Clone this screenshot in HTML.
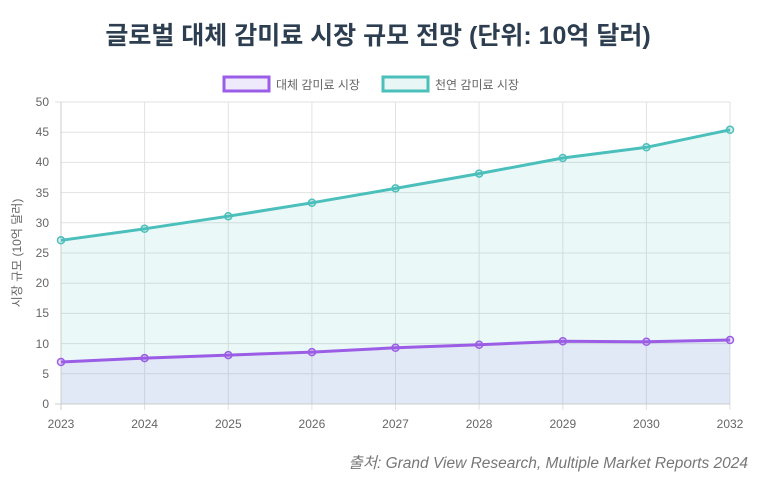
<!DOCTYPE html>
<html><head><meta charset="utf-8"><style>
body{margin:0;background:#fff;width:773px;height:493px;overflow:hidden;font-family:"Liberation Sans","Noto Sans CJK KR",sans-serif;}
</style></head><body>
<svg width="773" height="493" xmlns="http://www.w3.org/2000/svg" font-family="Liberation Sans, Noto Sans CJK KR, sans-serif">
<text x="378" y="44" text-anchor="middle" font-size="25" font-weight="bold" fill="#2c3e50">글로벌 대체 감미료 시장 규모 전망 (단위: 10억 달러)</text>
<rect x="224" y="77" width="45" height="14" fill="#efe9fc" stroke="#9b5de5" stroke-width="3"/>
<text x="276" y="89" font-size="12" fill="#666">대체 감미료 시장</text>
<rect x="383" y="77" width="45" height="14" fill="#e8f7f6" stroke="#4bbfbb" stroke-width="3"/>
<text x="435" y="89" font-size="12" fill="#666">천연 감미료 시장</text>
<g stroke="#e2e2e2" stroke-width="1">
<line x1="61" y1="102" x2="730" y2="102"/><line x1="61" y1="132.2" x2="730" y2="132.2"/><line x1="61" y1="162.4" x2="730" y2="162.4"/><line x1="61" y1="192.6" x2="730" y2="192.6"/><line x1="61" y1="222.8" x2="730" y2="222.8"/><line x1="61" y1="253" x2="730" y2="253"/><line x1="61" y1="283.2" x2="730" y2="283.2"/><line x1="61" y1="313.4" x2="730" y2="313.4"/><line x1="61" y1="343.6" x2="730" y2="343.6"/><line x1="61" y1="373.8" x2="730" y2="373.8"/>
<line x1="144.6" y1="102" x2="144.6" y2="410"/><line x1="228.3" y1="102" x2="228.3" y2="410"/><line x1="311.9" y1="102" x2="311.9" y2="410"/><line x1="395.5" y1="102" x2="395.5" y2="410"/><line x1="479.1" y1="102" x2="479.1" y2="410"/><line x1="562.8" y1="102" x2="562.8" y2="410"/><line x1="646.4" y1="102" x2="646.4" y2="410"/><line x1="730" y1="102" x2="730" y2="410"/>
<line x1="55" y1="102" x2="61" y2="102"/>
</g>
<polygon fill="rgba(75,191,187,0.11)" points="61,404 61,240.3 144.6,228.8 228.3,216.2 311.9,202.8 395.5,188.4 479.1,173.6 562.8,158 646.4,147.3 730,129.8 730,404"/>
<polygon fill="rgba(170,140,235,0.14)" points="61,404 61,362 144.6,358.1 228.3,355.1 311.9,352.1 395.5,347.8 479.1,344.8 562.8,341.2 646.4,341.8 730,340 730,404"/>
<line x1="61" y1="102" x2="61" y2="410" stroke="#ccc"/>
<line x1="55" y1="404" x2="730" y2="404" stroke="#ccc"/>
<polyline fill="none" stroke="#4bbfbb" stroke-width="3" stroke-linejoin="round" points="61,240.3 144.6,228.8 228.3,216.2 311.9,202.8 395.5,188.4 479.1,173.6 562.8,158 646.4,147.3 730,129.8"/>
<polyline fill="none" stroke="#9b5de5" stroke-width="3" stroke-linejoin="round" points="61,362 144.6,358.1 228.3,355.1 311.9,352.1 395.5,347.8 479.1,344.8 562.8,341.2 646.4,341.8 730,340"/>
<g fill="rgba(75,191,187,0.2)" stroke="#4bbfbb" stroke-width="1.5">
<circle cx="61" cy="240.3" r="3.5"/><circle cx="144.6" cy="228.8" r="3.5"/><circle cx="228.3" cy="216.2" r="3.5"/><circle cx="311.9" cy="202.8" r="3.5"/><circle cx="395.5" cy="188.4" r="3.5"/><circle cx="479.1" cy="173.6" r="3.5"/><circle cx="562.8" cy="158" r="3.5"/><circle cx="646.4" cy="147.3" r="3.5"/><circle cx="730" cy="129.8" r="3.5"/>
</g>
<g fill="rgba(155,93,229,0.2)" stroke="#9b5de5" stroke-width="1.5">
<circle cx="61" cy="362" r="3.5"/><circle cx="144.6" cy="358.1" r="3.5"/><circle cx="228.3" cy="355.1" r="3.5"/><circle cx="311.9" cy="352.1" r="3.5"/><circle cx="395.5" cy="347.8" r="3.5"/><circle cx="479.1" cy="344.8" r="3.5"/><circle cx="562.8" cy="341.2" r="3.5"/><circle cx="646.4" cy="341.8" r="3.5"/><circle cx="730" cy="340" r="3.5"/>
</g>
<g font-size="12" fill="#666" text-anchor="end">
<text x="49" y="106">50</text><text x="49" y="136">45</text><text x="49" y="166">40</text><text x="49" y="197">35</text><text x="49" y="227">30</text><text x="49" y="257">25</text><text x="49" y="287">20</text><text x="49" y="317">15</text><text x="49" y="348">10</text><text x="49" y="378">5</text><text x="49" y="408">0</text>
</g>
<g font-size="12" fill="#666" text-anchor="middle">
<text x="61" y="428">2023</text><text x="144.6" y="428">2024</text><text x="228.3" y="428">2025</text><text x="311.9" y="428">2026</text><text x="395.5" y="428">2027</text><text x="479.1" y="428">2028</text><text x="562.8" y="428">2029</text><text x="646.4" y="428">2030</text><text x="730" y="428">2032</text>
</g>
<text transform="translate(21,253) rotate(-90)" text-anchor="middle" font-size="12" fill="#666">시장 규모 (10억 달러)</text>
<text x="748" y="468" text-anchor="end" font-size="15.5" font-style="italic" fill="#777">출처: Grand View Research, Multiple Market Reports 2024</text>
</svg>
</body></html>
